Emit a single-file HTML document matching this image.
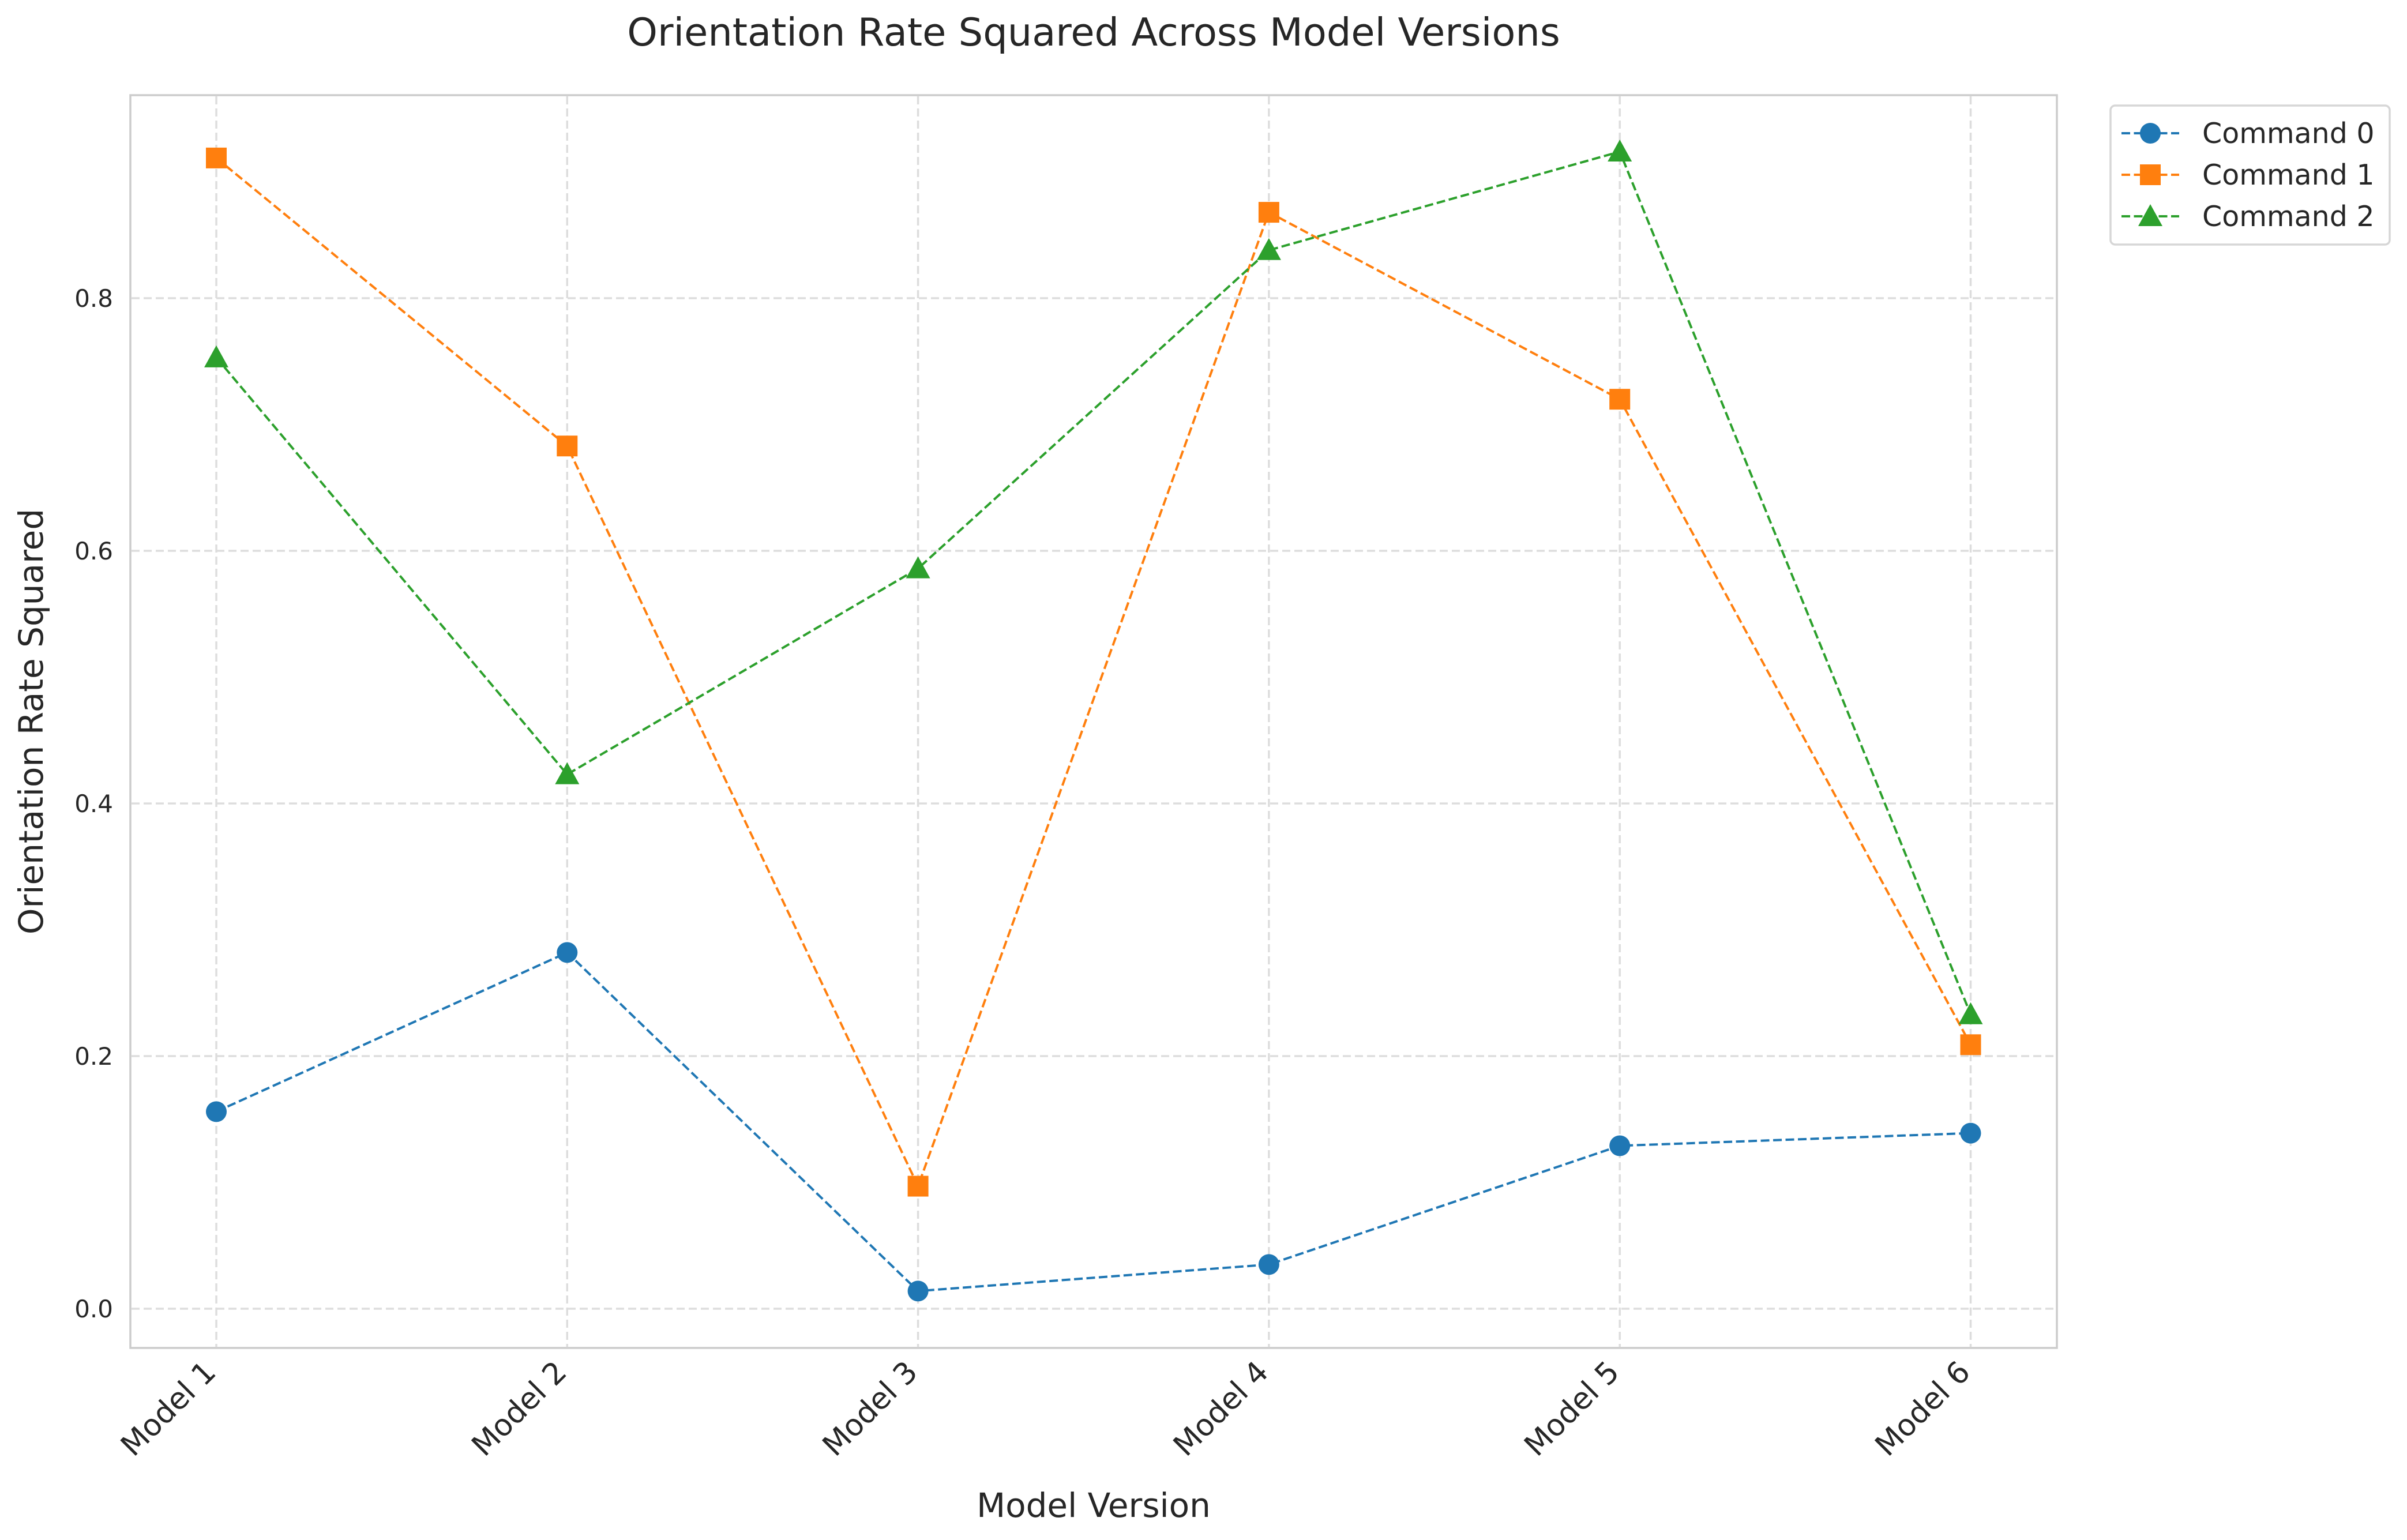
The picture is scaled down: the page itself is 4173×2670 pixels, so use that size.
<!DOCTYPE html>
<html><head><meta charset="utf-8"><style>
html,body{margin:0;padding:0;background:#fff;}
svg{display:block;font-family:"DejaVu Sans","Liberation Sans",sans-serif;}
</style></head><body>
<svg id="chart" width="4173" height="2670" viewBox="0 0 4173 2670" xmlns="http://www.w3.org/2000/svg">
<rect width="4173" height="2670" fill="#fff"/>
<g id="grid"></g>
<rect x="226" y="165" width="3340" height="2172" fill="none" stroke="#cccccc" stroke-width="3.5"/>
<g id="series"></g>
<g id="ticks"></g>
<text x="1896" y="79" text-anchor="middle" font-size="67" fill="#262626">Orientation Rate Squared Across Model Versions</text>
<text x="1896" y="2630" text-anchor="middle" font-size="58" fill="#262626">Model Version</text>
<text transform="translate(74,1251) rotate(-90)" text-anchor="middle" font-size="58" fill="#262626">Orientation Rate Squared</text>
<g id="legend">
<rect x="3659" y="183" width="484" height="241" rx="8" fill="#fff" stroke="#d6d6d6" stroke-width="3.5"/>
</g>
</svg>
<script>
const categories = ["Model 1","Model 2","Model 3","Model 4","Model 5","Model 6"];
const command0 = [0.156,0.282,0.014,0.035,0.129,0.139];
const command1 = [0.911,0.683,0.097,0.868,0.720,0.209];
const command2 = [0.753,0.423,0.586,0.838,0.916,0.233];
const seriesNames = ["Command 0","Command 1","Command 2"];
const yTicks = [0.0,0.2,0.4,0.6,0.8];
const yTickLabels = ["0.0","0.2","0.4","0.6","0.8"];

const NS="http://www.w3.org/2000/svg";
const X0=375, XSTEP=608.3, Y0=2269, YUNIT=2190;
function xs(i){return X0+i*XSTEP;}
function ys(v){return Y0-v*YUNIT;}
function mk(tag,attrs,parent){const e=document.createElementNS(NS,tag);for(const k in attrs)e.setAttribute(k,attrs[k]);parent.appendChild(e);return e;}
const grid=document.getElementById('grid'), ticks=document.getElementById('ticks'), series=document.getElementById('series'), legend=document.getElementById('legend');
categories.forEach((c,i)=>{
  const l=mk('line',{x1:xs(i),x2:xs(i),y1:167,y2:2335,stroke:'#dddddd','stroke-width':3.5,'stroke-dasharray':'14 7'},grid);
  
  
  const t=mk('text',{transform:`translate(${xs(i)+2},2382) rotate(-45)`,'text-anchor':'end','font-size':52,fill:'#262626'},ticks);
  t.textContent=c;
  
  
});
yTicks.forEach((v,i)=>{
  const l=mk('line',{x1:228,x2:3564,y1:ys(v),y2:ys(v),stroke:'#dddddd','stroke-width':3.5,'stroke-dasharray':'14 7'},grid);
  
  
  const t=mk('text',{x:196,y:ys(v)+15,'text-anchor':'end','font-size':42,fill:'#262626'},ticks);
  t.textContent=yTickLabels[i];
  
  
});
const colors=['#1f77b4','#ff7f0e','#2ca02c'];
const data=[command0,command1,command2];
function marker(kind,x,y,color,parent){
  let e;
  if(kind===0) e=mk('ellipse',{cx:x,cy:y,rx:18,ry:18,fill:color},parent);
  else if(kind===1) e=mk('rect',{x:x-18,y:y-18,width:36,height:36,fill:color},parent);
  else e=mk('polygon',{points:`${x},${y-21} ${x+21},${y+17} ${x-21},${y+17}`,fill:color},parent);
  return e;
}
data.forEach((vals,s)=>{
  const g=mk('g',{},series);
  
  
  const p=mk('polyline',{points:vals.map((v,i)=>xs(i)+','+ys(v)).join(' '),fill:'none',stroke:colors[s],'stroke-width':4,'stroke-dasharray':'15 6.5'},g);
  
  
  vals.forEach((v,i)=>{
    const m=marker(s,xs(i),ys(v),colors[s],g);
    
    
  });
  const ly=231+s*72;
  const ll=mk('line',{x1:3678,x2:3778,y1:ly,y2:ly,stroke:colors[s],'stroke-width':4,'stroke-dasharray':'15 6.5'},legend);
  
  
  const lm=marker(s,3728,ly,colors[s],legend);
  
  
  const lt=mk('text',{x:3818,y:ly+17,'font-size':49,fill:'#262626'},legend);
  lt.textContent=seriesNames[s];
  
  
});
</script>
</body></html>
